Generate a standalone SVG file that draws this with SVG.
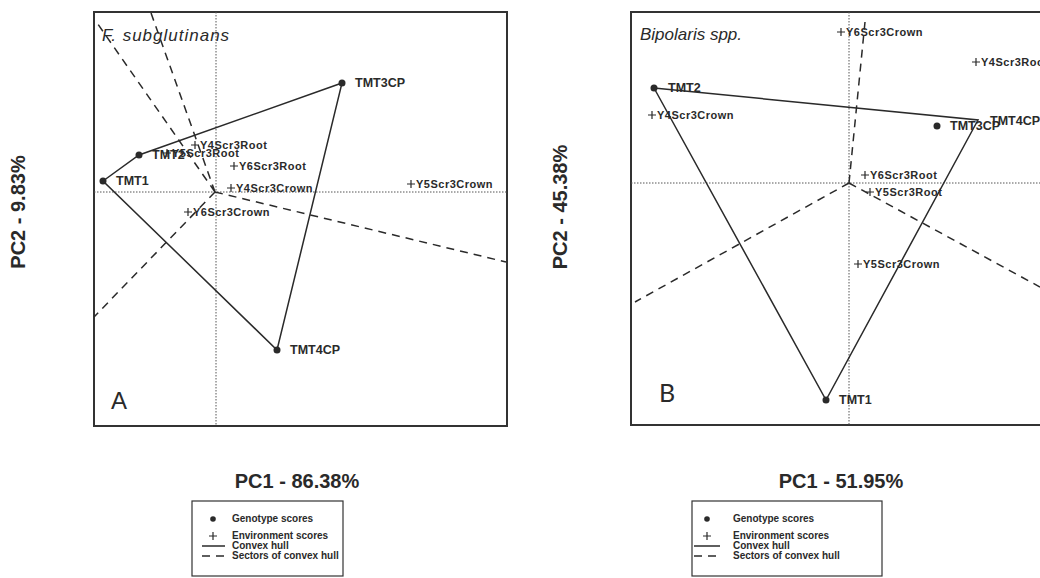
<svg xmlns="http://www.w3.org/2000/svg" width="1040" height="578" viewBox="0 0 1040 578">
<style>
text{font-family:"Liberation Sans",Arial,sans-serif;fill:#2a2a2a}
.frame{fill:none;stroke:#333;stroke-width:2}
.axis{stroke:#555;stroke-width:1;stroke-dasharray:1.5 1.5;fill:none}
.hull{stroke:#2a2a2a;stroke-width:1.5;fill:none}
.sector{stroke:#2a2a2a;stroke-width:1.5;fill:none;stroke-dasharray:8 6}
.dot{fill:#2a2a2a}
.plus{stroke:#2a2a2a;stroke-width:1.2;fill:none}
.gl{font-size:12.5px;font-weight:bold}
.el{font-size:11px;letter-spacing:0.5px;font-weight:bold}
.title{font-size:17px;font-style:italic}
.ax{font-size:20px;font-weight:bold}
.leg{font-size:10px;font-weight:bold}
.lbox{fill:none;stroke:#333;stroke-width:1.2}
</style>
<defs>
<path id="p" d="M-4 0H4M0 -4V4" class="plus"/>
</defs>

<!-- Panel A -->
<g id="panelA">
<rect class="frame" x="94" y="12" width="413" height="414"/>
<line class="axis" x1="94" y1="192" x2="507" y2="192"/>
<line class="axis" x1="216" y1="12" x2="216" y2="426"/>
<text class="title" x="102" y="41" letter-spacing="1">F. subglutinans</text>
<text x="111" y="409" font-size="24">A</text>
</g>
<g id="connectorsA">
<path class="hull" d="M103 181L139 155L342 83L277 350Z"/>
<path class="sector" d="M215 192L95 20M215 192L151 13M215 192L94 317M215 192L506 262"/>
</g>
<g id="A_TMT3CP"><circle class="dot" cx="342" cy="83" r="3.5"/><text class="gl" x="355" y="87">TMT3CP</text></g>
<g id="A_TMT2"><circle class="dot" cx="139" cy="155" r="3.5"/><text class="gl" x="152" y="159">TMT2</text></g>
<g id="A_TMT1"><circle class="dot" cx="103" cy="181" r="3.5"/><text class="gl" x="116" y="185">TMT1</text></g>
<g id="A_TMT4CP"><circle class="dot" cx="277" cy="350" r="3.5"/><text class="gl" x="290" y="354">TMT4CP</text></g>
<g id="A_Y4Scr3Root"><use href="#p" x="195" y="145"/><text class="el" x="200" y="149">Y4Scr3Root</text></g>
<g id="A_Y5Scr3Root"><use href="#p" x="167" y="153"/><text class="el" x="172" y="157">Y5Scr3Root</text></g>
<g id="A_Y6Scr3Root"><use href="#p" x="234" y="166"/><text class="el" x="239" y="170">Y6Scr3Root</text></g>
<g id="A_Y4Scr3Crown"><use href="#p" x="231" y="188"/><text class="el" x="236" y="192">Y4Scr3Crown</text></g>
<g id="A_Y5Scr3Crown"><use href="#p" x="411" y="184"/><text class="el" x="416" y="188">Y5Scr3Crown</text></g>
<g id="A_Y6Scr3Crown"><use href="#p" x="188" y="212"/><text class="el" x="193" y="216">Y6Scr3Crown</text></g>
<g id="A_axes">
<text class="ax" transform="translate(25,212) rotate(-90)" text-anchor="middle" font-size="19">PC2 - 9.83%</text>
<text class="ax" x="297" y="488" text-anchor="middle">PC1 - 86.38%</text>
</g>
<g id="legendA">
<rect class="lbox" x="192" y="501" width="151" height="75"/>
<circle class="dot" cx="213" cy="519" r="2.8"/>
<use href="#p" x="213" y="536"/>
<line class="hull" x1="202" y1="546" x2="225" y2="546" stroke-width="1"/>
<line class="sector" x1="202" y1="556" x2="226" y2="556" stroke-dasharray="5 4" stroke-width="1"/>
<text class="leg" x="232" y="522">Genotype scores</text>
<text class="leg" x="232" y="539">Environment scores</text>
<text class="leg" x="232" y="549">Convex hull</text>
<text class="leg" x="232" y="559">Sectors of convex hull</text>
</g>

<!-- Panel B -->
<g id="panelB">
<path class="frame" d="M1041 12H631V425H1041"/>
<line class="axis" x1="631" y1="183" x2="1040" y2="183"/>
<line class="axis" x1="849" y1="12" x2="849" y2="425" stroke-dasharray="4 1.5 1 1.5"/>
<text class="title" x="640" y="40">Bipolaris spp.</text>
<text x="659" y="402" font-size="25" style="font-family:Lato,'Open Sans',sans-serif">B</text>
</g>
<g id="connectorsB">
<path class="hull" d="M654 88L978 120L826 400Z"/>
<path class="sector" d="M849 183L865 22M849 183L635 302M849 183L1040 287"/>
</g>
<g id="B_TMT2"><circle class="dot" cx="654" cy="88" r="3.5"/><text class="gl" x="668" y="92">TMT2</text></g>
<g id="B_TMT3CP"><circle class="dot" cx="937" cy="126" r="3.5"/><text class="gl" x="950" y="130">TMT3CP</text></g>
<g id="B_TMT4CP"><text class="gl" x="990" y="125">TMT4CP</text></g>
<g id="B_TMT1"><circle class="dot" cx="826" cy="400" r="3.5"/><text class="gl" x="839" y="404">TMT1</text></g>
<g id="B_Y6Scr3Crown"><use href="#p" x="841" y="32"/><text class="el" x="846" y="36">Y6Scr3Crown</text></g>
<g id="B_Y4Scr3Root"><use href="#p" x="976" y="62"/><text class="el" x="981" y="66">Y4Scr3Root</text></g>
<g id="B_Y4Scr3Crown"><use href="#p" x="652" y="115"/><text class="el" x="657" y="119">Y4Scr3Crown</text></g>
<g id="B_Y6Scr3Root"><use href="#p" x="865" y="175"/><text class="el" x="870" y="179">Y6Scr3Root</text></g>
<g id="B_Y5Scr3Root"><use href="#p" x="870" y="192"/><text class="el" x="875" y="196">Y5Scr3Root</text></g>
<g id="B_Y5Scr3Crown"><use href="#p" x="858" y="264"/><text class="el" x="863" y="268">Y5Scr3Crown</text></g>
<g id="B_axes">
<text class="ax" transform="translate(567,207) rotate(-90)" text-anchor="middle" font-size="19">PC2 - 45.38%</text>
<text class="ax" x="841" y="488" text-anchor="middle">PC1 - 51.95%</text>
</g>
<g id="legendB">
<rect class="lbox" x="692" y="501" width="190" height="75"/>
<circle class="dot" cx="707" cy="519" r="2.8"/>
<use href="#p" x="707" y="536"/>
<line class="hull" x1="694" y1="546" x2="720" y2="546" stroke-width="1"/>
<line class="sector" x1="694" y1="556" x2="721" y2="556" stroke-dasharray="5 4" stroke-width="1"/>
<text class="leg" x="733" y="522">Genotype scores</text>
<text class="leg" x="733" y="539">Environment scores</text>
<text class="leg" x="733" y="549">Convex hull</text>
<text class="leg" x="733" y="559">Sectors of convex hull</text>
</g>
</svg>
